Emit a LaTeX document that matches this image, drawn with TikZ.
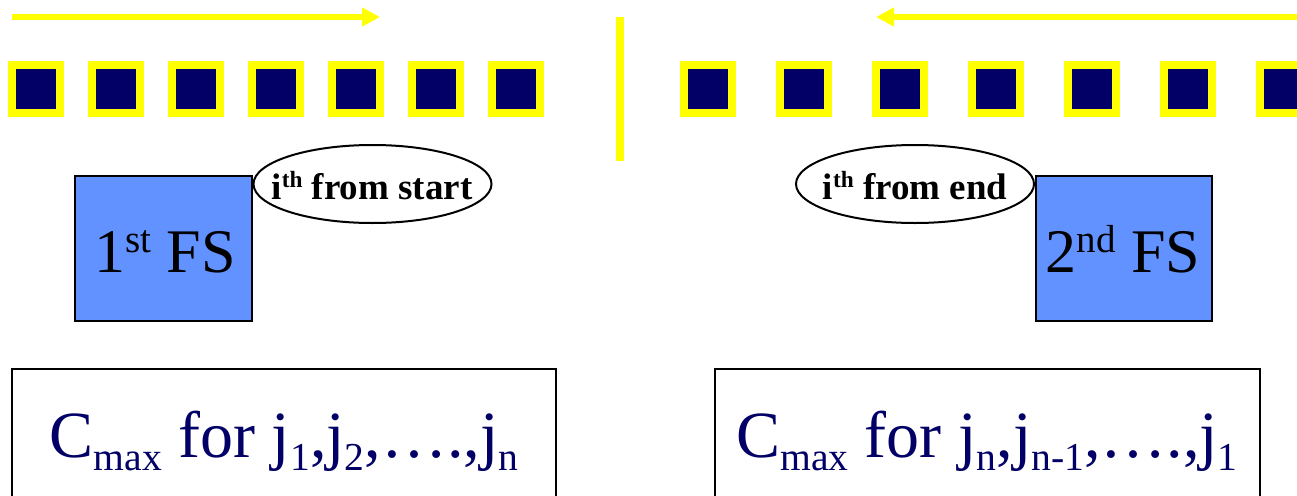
\documentclass[tikz,border=0pt]{standalone}
\usepackage{fontspec}
\setmainfont{Liberation Serif}
\usetikzlibrary{arrows.meta,shapes.geometric}
\definecolor{navyjob}{RGB}{2,0,102}
\definecolor{fsblue}{RGB}{98,146,255}
\definecolor{yel}{RGB}{255,255,0}
\newcommand{\supx}[1]{\raisebox{0.32em}{\scalebox{0.63}{#1}}}
\newcommand{\subx}[1]{\raisebox{-0.21em}{\scalebox{0.6}{#1}}}
\tikzset{
  job/.style={draw=yel, line width=8pt, fill=navyjob, minimum size=48pt, inner sep=0pt},
  yarrow/.style={draw=yel, line width=6pt, -{Triangle[length=18pt,width=18pt]}},
  fsbox/.style={draw=black, line width=2pt, fill=fsblue, inner sep=0pt},
  posell/.style={ellipse, draw=black, line width=2pt, fill=white, minimum width=238pt, minimum height=78pt, inner sep=0pt},
  postext/.style={inner sep=0pt, anchor=base, font=\fontsize{37}{40}\selectfont\bfseries},
  bigfs/.style={font=\fontsize{62}{70}\selectfont, inner sep=0pt, anchor=base},
  cbox/.style={draw=black, line width=2pt, fill=white},
  ctext/.style={font=\fontsize{66}{74}\selectfont, text=navyjob, inner sep=0pt, anchor=base}
}
\begin{document}
\begin{tikzpicture}[x=1pt,y=-1pt]
\useasboundingbox (0,0) rectangle (1297,495);
\clip (0,0) rectangle (1297,495);
% arrows
\coordinate (la1) at (12,17);
\coordinate (la2) at (380,17);
\coordinate (ra1) at (1310,17);
\coordinate (ra2) at (876,17);
\draw[yarrow] (la1) -- (la2);
\draw[yarrow] (ra1) -- (ra2);
% separator
\coordinate (sep1) at (620,17);
\coordinate (sep2) at (620,161);
\draw[yel, line width=8pt] (sep1) -- (sep2);
% jobs
\foreach \k in {0,...,6}{
  \node[job] (L\k) at (36+80*\k,89) {};
  \node[job] (R\k) at (708+96*\k,89) {};
}
% flow shops
\node[fsbox, minimum width=177pt, minimum height=145pt] (fs1) at (163.5,248.5) {};
\node[bigfs] (fs1t) at (165,272) {1\supx{st} FS};
\node[fsbox, minimum width=176pt, minimum height=145pt] (fs2) at (1124,248.5) {};
\node[bigfs] (fs2t) at (1123,272) {2\supx{nd} FS};
% ellipses
\node[posell] (e1) at (372.5,184) {};
\node[postext] (e1t) at (372,199) {i\supx{th} from start};
\node[posell] (e2) at (915,184) {};
\node[postext] (e2t) at (915,199) {i\supx{th} from end};
% Cmax boxes
\draw[cbox] (12,369) rectangle (556,540);
\draw[cbox] (715,369) rectangle (1260,540);
\node[ctext] (c1) at (284,457) {C\subx{max} for j\subx{1},j\subx{2},….,j\subx{n}};
\node[ctext] (c2) at (987,457) {C\subx{max} for j\subx{n},j\subx{n-1},….,j\subx{1}};
\end{tikzpicture}
\end{document}
